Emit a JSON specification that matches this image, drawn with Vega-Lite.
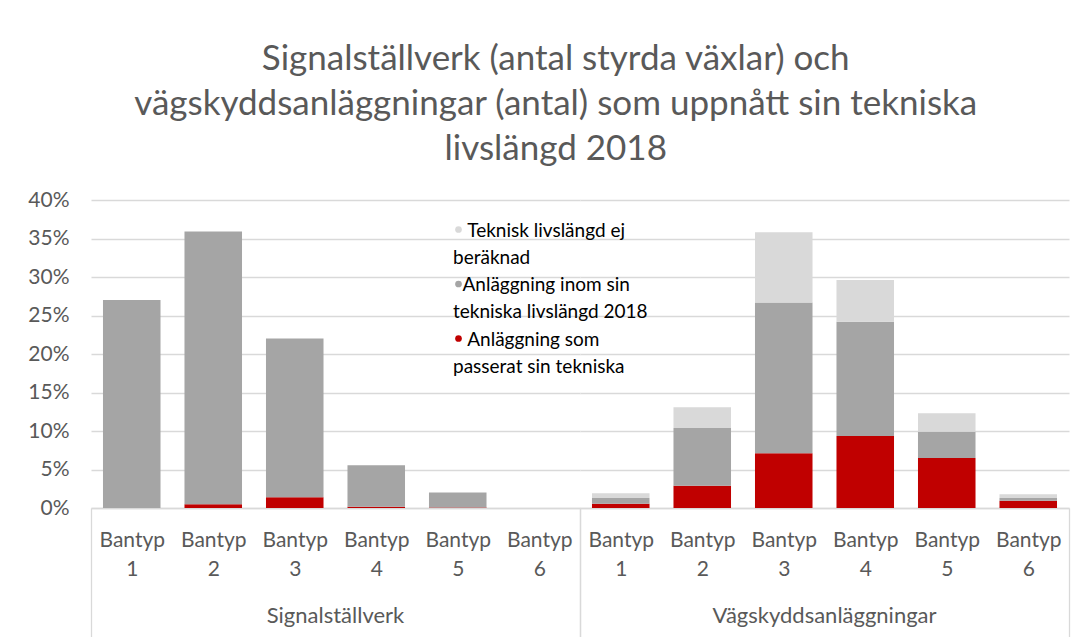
{
  "$schema": "https://vega.github.io/schema/vega-lite/v6.json",
  "padding": {"left": 27, "top": 42, "right": 5, "bottom": 0},
  "title": {
    "text": ["Signalställverk (antal styrda växlar) och", "vägskyddsanläggningar (antal) som uppnått sin tekniska", "livslängd 2018"],
    "font": "Lato", "fontSize": 35, "fontWeight": "normal", "color": "#595959",
    "lineHeight": 45, "anchor": "middle", "offset": 22, "dx": 7
  },
  "data": {
    "values": [
      {"grp": "Signalställverk", "bantyp": "Bantyp 1", "status": "Anläggning som passerat sin tekniska livslängd 2018", "o": 1, "v": 0},
      {"grp": "Signalställverk", "bantyp": "Bantyp 1", "status": "Anläggning inom sin tekniska livslängd 2018", "o": 2, "v": 0.27},
      {"grp": "Signalställverk", "bantyp": "Bantyp 1", "status": "Teknisk livslängd ej beräknad", "o": 3, "v": 0},
      {"grp": "Signalställverk", "bantyp": "Bantyp 2", "status": "Anläggning som passerat sin tekniska livslängd 2018", "o": 1, "v": 0.005},
      {"grp": "Signalställverk", "bantyp": "Bantyp 2", "status": "Anläggning inom sin tekniska livslängd 2018", "o": 2, "v": 0.354},
      {"grp": "Signalställverk", "bantyp": "Bantyp 2", "status": "Teknisk livslängd ej beräknad", "o": 3, "v": 0},
      {"grp": "Signalställverk", "bantyp": "Bantyp 3", "status": "Anläggning som passerat sin tekniska livslängd 2018", "o": 1, "v": 0.014},
      {"grp": "Signalställverk", "bantyp": "Bantyp 3", "status": "Anläggning inom sin tekniska livslängd 2018", "o": 2, "v": 0.206},
      {"grp": "Signalställverk", "bantyp": "Bantyp 3", "status": "Teknisk livslängd ej beräknad", "o": 3, "v": 0},
      {"grp": "Signalställverk", "bantyp": "Bantyp 4", "status": "Anläggning som passerat sin tekniska livslängd 2018", "o": 1, "v": 0.0015},
      {"grp": "Signalställverk", "bantyp": "Bantyp 4", "status": "Anläggning inom sin tekniska livslängd 2018", "o": 2, "v": 0.054},
      {"grp": "Signalställverk", "bantyp": "Bantyp 4", "status": "Teknisk livslängd ej beräknad", "o": 3, "v": 0},
      {"grp": "Signalställverk", "bantyp": "Bantyp 5", "status": "Anläggning som passerat sin tekniska livslängd 2018", "o": 1, "v": 0.0005},
      {"grp": "Signalställverk", "bantyp": "Bantyp 5", "status": "Anläggning inom sin tekniska livslängd 2018", "o": 2, "v": 0.0195},
      {"grp": "Signalställverk", "bantyp": "Bantyp 5", "status": "Teknisk livslängd ej beräknad", "o": 3, "v": 0},
      {"grp": "Signalställverk", "bantyp": "Bantyp 6", "status": "Anläggning som passerat sin tekniska livslängd 2018", "o": 1, "v": 0},
      {"grp": "Signalställverk", "bantyp": "Bantyp 6", "status": "Anläggning inom sin tekniska livslängd 2018", "o": 2, "v": 0},
      {"grp": "Signalställverk", "bantyp": "Bantyp 6", "status": "Teknisk livslängd ej beräknad", "o": 3, "v": 0},
      {"grp": "Vägskyddsanläggningar", "bantyp": "Bantyp 1", "status": "Anläggning som passerat sin tekniska livslängd 2018", "o": 1, "v": 0.0055},
      {"grp": "Vägskyddsanläggningar", "bantyp": "Bantyp 1", "status": "Anläggning inom sin tekniska livslängd 2018", "o": 2, "v": 0.0075},
      {"grp": "Vägskyddsanläggningar", "bantyp": "Bantyp 1", "status": "Teknisk livslängd ej beräknad", "o": 3, "v": 0.006},
      {"grp": "Vägskyddsanläggningar", "bantyp": "Bantyp 2", "status": "Anläggning som passerat sin tekniska livslängd 2018", "o": 1, "v": 0.029},
      {"grp": "Vägskyddsanläggningar", "bantyp": "Bantyp 2", "status": "Anläggning inom sin tekniska livslängd 2018", "o": 2, "v": 0.075},
      {"grp": "Vägskyddsanläggningar", "bantyp": "Bantyp 2", "status": "Teknisk livslängd ej beräknad", "o": 3, "v": 0.027},
      {"grp": "Vägskyddsanläggningar", "bantyp": "Bantyp 3", "status": "Anläggning som passerat sin tekniska livslängd 2018", "o": 1, "v": 0.071},
      {"grp": "Vägskyddsanläggningar", "bantyp": "Bantyp 3", "status": "Anläggning inom sin tekniska livslängd 2018", "o": 2, "v": 0.196},
      {"grp": "Vägskyddsanläggningar", "bantyp": "Bantyp 3", "status": "Teknisk livslängd ej beräknad", "o": 3, "v": 0.091},
      {"grp": "Vägskyddsanläggningar", "bantyp": "Bantyp 4", "status": "Anläggning som passerat sin tekniska livslängd 2018", "o": 1, "v": 0.0935},
      {"grp": "Vägskyddsanläggningar", "bantyp": "Bantyp 4", "status": "Anläggning inom sin tekniska livslängd 2018", "o": 2, "v": 0.1485},
      {"grp": "Vägskyddsanläggningar", "bantyp": "Bantyp 4", "status": "Teknisk livslängd ej beräknad", "o": 3, "v": 0.054},
      {"grp": "Vägskyddsanläggningar", "bantyp": "Bantyp 5", "status": "Anläggning som passerat sin tekniska livslängd 2018", "o": 1, "v": 0.065},
      {"grp": "Vägskyddsanläggningar", "bantyp": "Bantyp 5", "status": "Anläggning inom sin tekniska livslängd 2018", "o": 2, "v": 0.034},
      {"grp": "Vägskyddsanläggningar", "bantyp": "Bantyp 5", "status": "Teknisk livslängd ej beräknad", "o": 3, "v": 0.024},
      {"grp": "Vägskyddsanläggningar", "bantyp": "Bantyp 6", "status": "Anläggning som passerat sin tekniska livslängd 2018", "o": 1, "v": 0.0095},
      {"grp": "Vägskyddsanläggningar", "bantyp": "Bantyp 6", "status": "Anläggning inom sin tekniska livslängd 2018", "o": 2, "v": 0.0035},
      {"grp": "Vägskyddsanläggningar", "bantyp": "Bantyp 6", "status": "Teknisk livslängd ej beräknad", "o": 3, "v": 0.005}
    ]
  },
  "facet": {
    "column": {
      "field": "grp", "type": "nominal", "sort": ["Signalställverk", "Vägskyddsanläggningar"],
      "header": {"title": null, "labelOrient": "bottom", "labelFont": "Lato", "labelFontSize": 22, "labelColor": "#595959", "labelPadding": -33}
    }
  },
  "spacing": 0,
  "spec": {
    "width": 489,
    "height": 308,
    "mark": {"type": "bar"},
    "encoding": {
      "x": {
        "field": "bantyp", "type": "nominal", "sort": null,
        "scale": {"paddingInner": 0.294, "paddingOuter": 0.147},
        "axis": {
          "title": null, "labelAngle": 0, "labelExpr": "split(datum.label, ' ')",
          "labelFont": "Lato", "labelFontSize": 21, "labelColor": "#595959", "labelLineHeight": 29,
          "labelPadding": -109, "labelBaseline": "top", "labelOffset": -12,
          "domainColor": "#d9d9d9", "domainWidth": 1.3,
          "tickBand": {"expr": "'extent'"}, "tickOffset": {"expr": "datum.extra ? -12 : 12"},
          "tickSize": 130, "tickWidth": 1.3,
          "tickColor": {"condition": {"test": "datum.index == -1 || datum.value == 'Bantyp 6'", "value": "#d9d9d9"}, "value": "transparent"}
        }
      },
      "y": {
        "field": "v", "type": "quantitative", "stack": "zero",
        "scale": {"domain": [0, 0.4]},
        "axis": {
          "title": null, "values": [0, 0.05, 0.1, 0.15, 0.2, 0.25, 0.3, 0.35, 0.4], "format": ".0%",
          "labelFont": "Lato", "labelFontSize": 21, "labelColor": "#595959", "labelPadding": 22,
          "domain": false, "ticks": false, "gridColor": "#d9d9d9", "gridWidth": 1.3
        }
      },
      "color": {
        "field": "status", "type": "nominal",
        "scale": {
          "domain": ["Teknisk livslängd ej beräknad", "Anläggning inom sin tekniska livslängd 2018", "Anläggning som passerat sin tekniska livslängd 2018"],
          "range": ["#d9d9d9", "#a5a5a5", "#c00000"]
        },
        "legend": {
          "title": null, "orient": "none", "legendX": 362, "legendY": 20, "direction": "vertical",
          "labelFont": "Lato", "labelFontSize": 19, "labelColor": "#000000", "labelBaseline": "top",
          "labelLimit": 400, "symbolType": "circle", "symbolSize": 45, "symbolOffset": -4, "labelOffset": -15, "rowPadding": 6.5,
          "labelExpr": "datum.label == 'Teknisk livslängd ej beräknad' ? ['\u200b\u2003Teknisk livslängd ej', 'beräknad'] : datum.label == 'Anläggning inom sin tekniska livslängd 2018' ? ['\u200b\u2002Anläggning inom sin', 'tekniska livslängd 2018'] : ['\u200b\u2003Anläggning som', 'passerat sin tekniska']",
          "encode": {
            "labels": {"update": {"lineHeight": {"value": 27}, "dy": {"value": -8}}},
            "symbols": {"update": {"fill": {"signal": "datum.value == 'Teknisk livslängd ej beräknad' ? '#d9d9d9' : datum.value == 'Anläggning inom sin tekniska livslängd 2018' ? '#7f7f7f' : '#c0504d'"}, "stroke": {"value": "transparent"}}}
          }
        }
      },
      "order": {"field": "o", "type": "quantitative"}
    }
  },
  "config": {"view": {"stroke": null}}
}
